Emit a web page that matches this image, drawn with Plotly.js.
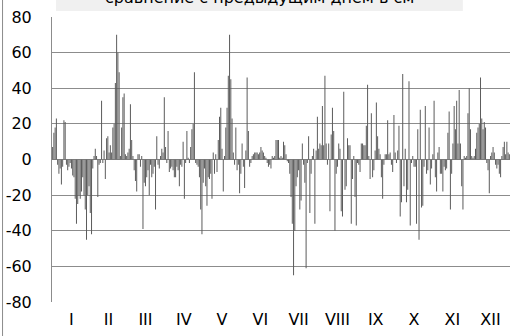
<!DOCTYPE html>
<html>
<head>
<meta charset="utf-8">
<script src="https://cdn.plot.ly/plotly-3.0.1.min.js"></script>
<style>
html,body{margin:0;padding:0;background:#fff;overflow:hidden;}
#chart{width:510px;height:336px;}
</style>
</head>
<body>
<div id="chart"></div>
<script>
// Daily change of level compared with the previous day (cm), per month
const jan = [7,15,18,23,-3,-8,-5,-14,-4,22,21,-3,-6,-4,-2,-5,-9,-10,-22,-36,-25,-20,-22,-18,-10,-20,-28,-45,-20,-15,-30];
const feb = [-42,-5,2,6,2,-21,-3,-2,33,-2,5,-11,12,13,4,8,4,18,20,43,70,60,49,2,18,35,37,3];
const mar = [2,4,6,31,11,2,-6,-12,-18,3,3,-4,2,-39,-13,-15,-10,-6,-20,-3,-10,-8,-4,-28,13,-3,-5,2,6,4,35];
const apr = [7,-2,16,-7,-5,-4,-6,-10,-10,-4,-6,-15,-3,-4,10,-22,-2,16,1,-2,7,17,20,49,-2,-3,-4,-10,-28,-42];
const may = [-13,-5,-15,-26,-10,-11,-8,-22,4,-8,3,-7,11,24,29,6,-18,2,18,29,47,70,45,23,4,-3,18,-6,-3,-19,-8];
const jun = [9,-4,-16,5,46,16,-4,-2,2,3,4,4,4,3,4,7,5,4,2,1,-2,-4,-3,-5,2,1,2,11,11,11];
const jul = [1,2,1,10,8,3,-1,-2,-8,-21,-36,-65,-40,-15,-10,-6,-28,-23,9,-3,-13,-61,-2,13,-30,-8,2,6,-36,5,24];
const aug = [6,9,8,30,8,47,9,-3,9,-29,14,29,16,-40,-8,-4,9,6,-29,-32,38,-17,-15,12,8,8,-36,-11,2,-21,-37];
const sep = [-2,-3,-7,9,9,8,8,19,42,2,-11,26,-10,-6,5,32,13,6,3,-10,-22,-3,3,3,22,3,4,-3,-7,25];
const oct = [4,-2,5,19,-32,-24,48,-15,6,-24,-17,44,-37,-2,2,-4,-4,-36,17,-45,28,-27,-26,-4,30,-8,-6,18,-14,-5,3];
const nov = [33,-10,-18,4,7,-8,-8,-18,-4,-6,-5,15,27,-28,-8,9,30,17,33,9,39,9,-15,-28,2,1,2,26,40,17];
const dec = [2,1,2,6,15,18,20,46,23,17,21,18,-2,-6,-19,2,4,7,4,-3,-5,-3,-8,-10,2,7,10,3,10,4,3];

const monthLabels = ["I","II","III","IV","V","VI","VII","VIII","IX","X","XI","XII"];
const yTicks = [-80,-60,-40,-20,0,20,40,60,80];
const yTickText = ["-80","-60","-40","-20","0","20","40","60","80"];
const titleText = "сравнение с предыдущим днем в см";

const months = [jan,feb,mar,apr,may,jun,jul,aug,sep,oct,nov,dec];
const values = [].concat(...months);
const days = values.map((v,i)=>i);
const monthCenters = [];
let start = 0;
months.forEach(m=>{ monthCenters.push(start + (m.length-1)/2); start += m.length; });

const FONT = "DejaVu Sans, Arial, sans-serif";

const trace = {
  type: 'bar',
  x: days,
  y: values,
  marker: {color: '#5c5c5c', line: {width: 0}},
  hoverinfo: 'x+y'
};

const layout = {
  width: 510,
  height: 336,
  margin: {l: 52, r: 0, t: 17, b: 34, pad: 0},
  paper_bgcolor: '#ffffff',
  plot_bgcolor: '#ffffff',
  showlegend: false,
  bargap: 0.2,
  font: {family: FONT, size: 16, color: '#000'},
  xaxis: {
    range: [-0.5, days.length - 0.5],
    tickvals: monthCenters,
    ticktext: monthLabels,
    ticks: '',
    showgrid: false,
    zeroline: false,
    showline: false,
    ticklabelstandoff: 6,
    tickfont: {family: FONT, size: 16, color: '#000'}
  },
  yaxis: {
    range: [-80, 80],
    tickvals: yTicks,
    ticktext: yTickText,
    ticks: '',
    showgrid: true,
    gridcolor: '#8c8c8c',
    gridwidth: 1,
    zeroline: true,
    zerolinecolor: '#8c8c8c',
    zerolinewidth: 1,
    showline: true,
    linecolor: '#8c8c8c',
    linewidth: 1,
    ticklabelstandoff: 16,
    tickfont: {family: FONT, size: 16, color: '#000'}
  },
  shapes: [
    {type: 'rect', xref: 'paper', yref: 'paper', x0: 0.0087, x1: 0.897, y0: 1.021, y1: 1.2,
     fillcolor: '#f0f0f0', line: {width: 0}, layer: 'below'},
    {type: 'line', xref: 'paper', yref: 'paper', x0: -0.108, x1: -0.108, y0: -0.13, y1: 1.2,
     line: {color: '#8c8c8c', width: 1}}
  ],
  annotations: [
    {text: titleText, xref: 'paper', yref: 'paper', x: 0.454, y: 1.07,
     xanchor: 'center', yanchor: 'middle', showarrow: false,
     font: {family: FONT, size: 16, color: '#000'}}
  ]
};

Plotly.newPlot('chart', [trace], layout, {staticPlot: true, displayModeBar: false});
</script>
</body>
</html>
